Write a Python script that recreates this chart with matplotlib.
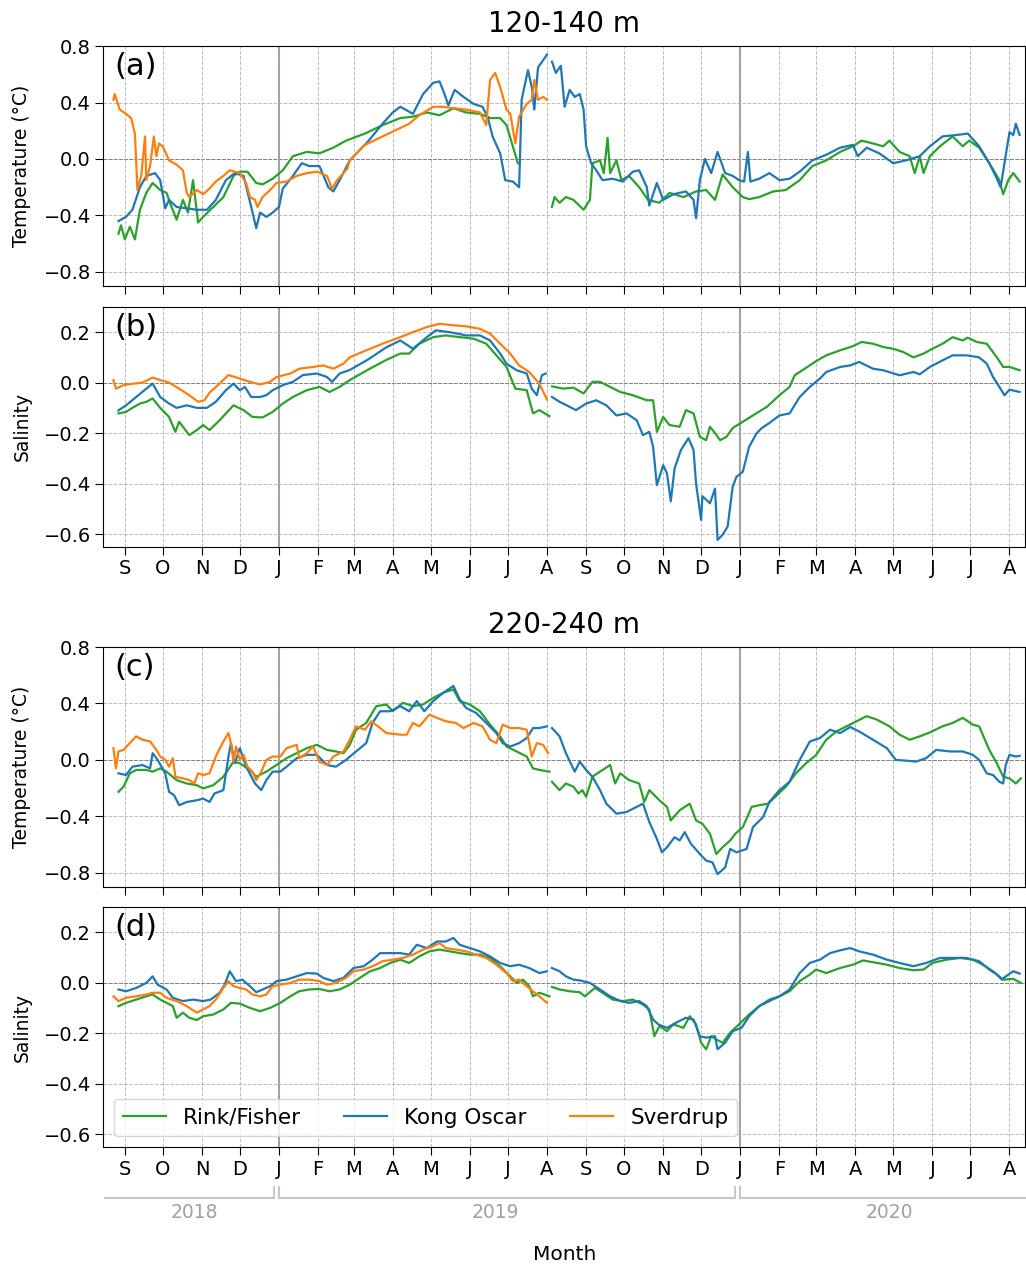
import numpy as np
import matplotlib
matplotlib.use("Agg")
import matplotlib.pyplot as plt
import matplotlib.dates as mdates
import matplotlib.transforms as mtransforms

nan = np.nan

# all series: days since 2019-01-01, anomaly values
# (a) temperature, 120-140 m
ta_rink_d = [-127, -125, -122, -118, -114, -110, -105, -100, -94, -89, -85, -81, -76, -72, -68, -64, -60, -52, -44, -36,
             -31, -25, -18, -13, -5, 3, 11, 22, 32, 43, 53, 68, 82, 96, 106, 117, 127, 138, 148, 159,
             167, 175, 180, 185, 189, 200, 216, 218, 222, 227, 233, 241, 246, 248, 254, 257, 260, 262, 267, 271,
             277, 285, 292, 301, 309, 320, 330, 338, 345, 351, 359, 367, 372, 380, 391, 401, 412, 422, 433, 444,
             454, 461, 470, 478, 483, 491, 499, 503, 507, 510, 515, 523, 533, 541, 546, 554, 562, 570, 573, 577,
             581, 586]
ta_rink_v = [-0.53, -0.47, -0.57, -0.48, -0.57, -0.36, -0.24, -0.17, -0.22, -0.24, -0.34, -0.43, -0.29, -0.38, -0.15, -0.45, -0.41, -0.34, -0.27, -0.12,
             -0.09, -0.09, -0.17, -0.18, -0.14, -0.08, 0.02, 0.05, 0.04, 0.08, 0.13, 0.18, 0.24, 0.29, 0.30, 0.33, 0.31, 0.36, 0.33, 0.32,
             0.29, 0.29, 0.24, 0.09, -0.03, nan, -0.34, -0.27, -0.31, -0.27, -0.29, -0.36, -0.29, -0.03, -0.01, -0.10, 0.15, -0.10, -0.01, -0.15,
             -0.12, -0.20, -0.29, -0.31, -0.24, -0.27, -0.23, -0.22, -0.29, -0.11, -0.20, -0.27, -0.285, -0.27, -0.23, -0.22, -0.15, -0.05, -0.01, 0.05,
             0.09, 0.13, 0.11, 0.09, 0.13, 0.05, 0.02, -0.10, 0.02, -0.10, 0.02, 0.09, 0.16, 0.09, 0.13, 0.08, -0.03, -0.15, -0.25, -0.15,
             -0.10, -0.16]
ta_kong_d = [-127, -121, -116, -110, -105, -98, -94, -90, -87, -81, -73, -65, -57, -50, -42, -35, -28, -22, -18, -15,
             -10, -5, 0, 3, 11, 18, 24, 32, 39, 43, 48, 56, 70, 82, 90, 96, 106, 114, 122, 127,
             131, 134, 139, 146, 154, 161, 165, 169, 175, 179, 185, 190, 192, 197, 200, 202, 205, 209, 212, 214,
             216, 219, 223, 226, 230, 234, 238, 241, 243, 247, 251, 256, 264, 272, 280, 285, 291, 293, 299, 304,
             312, 322, 328, 330, 333, 337, 342, 347, 353, 359, 364, 368, 371, 373, 380, 388, 396, 404, 412, 422,
             433, 444, 454, 458, 465, 475, 486, 496, 507, 515, 525, 536, 545, 554, 562, 567, 571, 574, 578, 581,
             583, 586]
ta_kong_v = [-0.44, -0.41, -0.36, -0.20, -0.12, -0.10, -0.15, -0.35, -0.29, -0.34, -0.35, -0.36, -0.36, -0.29, -0.15, -0.10, -0.12, -0.34, -0.49, -0.38,
             -0.41, -0.38, -0.34, -0.21, -0.12, -0.03, -0.05, -0.05, -0.20, -0.23, -0.15, -0.01, 0.12, 0.25, 0.33, 0.37, 0.32, 0.46, 0.54, 0.55,
             0.46, 0.38, 0.49, 0.44, 0.39, 0.37, 0.30, 0.16, 0.04, -0.15, -0.16, -0.20, 0.42, 0.63, 0.51, 0.35, 0.65, 0.70, 0.74, nan,
             0.69, 0.61, 0.66, 0.37, 0.49, 0.44, 0.46, 0.35, 0.09, -0.03, -0.08, -0.15, -0.14, -0.16, -0.09, -0.08, -0.20, -0.33, -0.17, -0.29,
             -0.25, -0.23, -0.29, -0.42, -0.15, 0.0, -0.10, 0.05, -0.10, -0.12, -0.15, -0.16, 0.05, -0.16, -0.14, -0.10, -0.15, -0.14, -0.09, -0.01,
             0.03, 0.08, 0.10, 0.02, 0.08, 0.04, -0.03, -0.01, 0.02, 0.09, 0.16, 0.17, 0.18, 0.09, -0.03, -0.12, -0.20, -0.03, 0.19, 0.17,
             0.25, 0.17]
ta_sver_d = [-131, -130, -126, -121, -117, -114, -112, -109, -106, -105, -102, -99, -97, -95, -92, -87, -81, -76, -73, -71,
             -65, -60, -55, -50, -44, -39, -31, -26, -23, -19, -17, -13, -7, -2, 6, 14, 22, 30, 38, 42,
             46, 54, 56, 68, 82, 96, 103, 111, 122, 130, 138, 148, 159, 164, 167, 171, 175, 180, 183, 187,
             190, 196, 200, 202, 205, 209, 212]
ta_sver_v = [0.42, 0.46, 0.35, 0.32, 0.29, 0.18, -0.22, -0.12, 0.16, -0.15, -0.05, 0.16, 0.02, 0.11, 0.09, -0.01, -0.04, -0.08, -0.24, -0.27,
             -0.22, -0.25, -0.21, -0.16, -0.12, -0.08, -0.10, -0.17, -0.27, -0.29, -0.34, -0.27, -0.22, -0.17, -0.16, -0.12, -0.10, -0.09, -0.12, -0.21,
             -0.15, -0.07, -0.01, 0.10, 0.16, 0.22, 0.25, 0.31, 0.37, 0.37, 0.36, 0.35, 0.33, 0.24, 0.56, 0.61, 0.51, 0.35, 0.32, 0.11,
             0.30, 0.39, 0.42, 0.56, 0.42, 0.44, 0.42]

# (b) salinity, 120-140 m
sb_rink_d = [-127, -121, -116, -110, -105, -100, -94, -87, -82, -79, -71, -65, -60, -55, -47, -36, -28, -21, -13, -5,
             3, 11, 22, 32, 40, 48, 56, 70, 85, 96, 103, 111, 122, 132, 143, 154, 164, 172, 180, 187,
             196, 201, 206, 214, 215, 216, 225, 233, 241, 248, 254, 262, 270, 280, 291, 296, 299, 304, 309, 317,
             322, 328, 333, 338, 341, 345, 349, 354, 359, 367, 375, 386, 396, 404, 408, 416, 424, 433, 444, 454,
             461, 470, 478, 486, 494, 502, 510, 517, 525, 533, 541, 545, 552, 560, 568, 573, 578, 586]
sb_rink_v = [-0.122, -0.116, -0.10, -0.083, -0.076, -0.063, -0.10, -0.136, -0.195, -0.155, -0.208, -0.188, -0.168, -0.188, -0.149, -0.09, -0.109, -0.136, -0.138, -0.116,
             -0.083, -0.057, -0.03, -0.017, -0.037, -0.017, 0.01, 0.05, 0.09, 0.115, 0.115, 0.154, 0.18, 0.187, 0.18, 0.174, 0.154, 0.108, 0.062, -0.024,
             -0.03, -0.122, -0.109, -0.133, nan, -0.015, -0.024, -0.02, -0.043, 0.003, 0.003, -0.017, -0.037, -0.05, -0.07, -0.07, -0.195, -0.136, -0.168, -0.175,
             -0.109, -0.122, -0.215, -0.228, -0.175, -0.20, -0.228, -0.215, -0.18, -0.155, -0.13, -0.096, -0.05, -0.017, 0.029, 0.055, 0.082, 0.108, 0.128, 0.144,
             0.161, 0.154, 0.141, 0.134, 0.121, 0.10, 0.115, 0.134, 0.154, 0.18, 0.167, 0.178, 0.161, 0.154, 0.10, 0.062, 0.062, 0.049]
sb_kong_d = [-127, -121, -113, -105, -100, -94, -87, -81, -73, -65, -57, -50, -42, -36, -31, -27, -22, -15, -10, -5,
             3, 11, 19, 30, 38, 42, 48, 56, 70, 85, 96, 106, 117, 124, 135, 148, 159, 167, 175, 180,
             188, 196, 200, 204, 208, 211, 213, 216, 222, 230, 235, 243, 251, 259, 267, 275, 283, 288, 293, 296,
             299, 304, 307, 310, 313, 318, 324, 328, 330, 334, 335, 341, 345, 347, 351, 355, 359, 362, 367, 372,
             378, 382, 388, 396, 404, 412, 420, 428, 433, 444, 452, 459, 470, 478, 491, 502, 507, 515, 525, 533,
             544, 554, 560, 565, 570, 574, 578, 586]
sb_kong_v = [-0.11, -0.09, -0.057, -0.024, -0.004, -0.057, -0.083, -0.10, -0.09, -0.10, -0.10, -0.076, -0.03, -0.004, -0.03, -0.017, -0.057, -0.057, -0.05, -0.03,
             -0.01, 0.003, 0.03, 0.036, 0.022, 0.003, 0.036, 0.05, 0.09, 0.14, 0.167, 0.134, 0.18, 0.207, 0.20, 0.187, 0.187, 0.167, 0.115, 0.075,
             0.049, 0.036, -0.024, -0.05, 0.029, 0.036, nan, -0.057, -0.076, -0.096, -0.109, -0.083, -0.07, -0.09, -0.13, -0.122, -0.149, -0.208, -0.195, -0.254,
             -0.406, -0.327, -0.36, -0.47, -0.34, -0.267, -0.22, -0.267, -0.40, -0.544, -0.45, -0.478, -0.42, -0.623, -0.603, -0.57, -0.412, -0.373, -0.353, -0.254,
             -0.20, -0.18, -0.16, -0.13, -0.122, -0.057, -0.017, 0.016, 0.042, 0.062, 0.068, 0.082, 0.055, 0.049, 0.029, 0.042, 0.033, 0.062, 0.088, 0.108,
             0.108, 0.10, 0.075, 0.022, -0.017, -0.05, -0.028, -0.037]
sb_sver_d = [-131, -129, -123, -115, -108, -100, -94, -87, -79, -71, -64, -59, -55, -47, -40, -31, -23, -15, -7, -2,
             9, 16, 27, 35, 43, 51, 56, 70, 85, 96, 106, 117, 127, 138, 148, 159, 167, 175, 183, 190,
             198, 206, 212]
sb_sver_v = [0.01, -0.024, -0.01, -0.004, 0.0, 0.02, 0.01, 0.0, -0.024, -0.05, -0.076, -0.07, -0.04, -0.004, 0.03, 0.016, 0.003, -0.007, 0.003, 0.022,
             0.036, 0.055, 0.062, 0.068, 0.055, 0.075, 0.10, 0.13, 0.16, 0.18, 0.20, 0.22, 0.233, 0.227, 0.223, 0.213, 0.194, 0.154, 0.115, 0.068,
             0.042, -0.004, -0.067]

# (c) temperature, 220-240 m
tc_rink_d = [-127, -123, -118, -113, -105, -100, -94, -89, -81, -73, -65, -60, -52, -44, -36, -31, -23, -18, -10, -2,
             6, 14, 22, 30, 38, 45, 51, 56, 61, 69, 77, 85, 90, 98, 106, 114, 122, 130, 138, 143,
             151, 159, 167, 175, 180, 188, 196, 201, 206, 214, 215, 216, 222, 227, 233, 237, 240, 243, 248, 254,
             262, 266, 270, 277, 285, 289, 293, 301, 307, 310, 317, 325, 330, 335, 341, 346, 351, 357, 361, 367,
             374, 380, 387, 394, 401, 409, 417, 425, 433, 441, 449, 457, 465, 473, 483, 491, 499, 507, 515, 525,
             533, 541, 549, 554, 562, 568, 573, 578, 583, 587]
tc_rink_v = [-0.226, -0.19, -0.095, -0.071, -0.071, -0.083, -0.06, -0.083, -0.143, -0.167, -0.179, -0.202, -0.179, -0.119, -0.012, -0.024, -0.071, -0.119, -0.083, -0.036,
             0.012, 0.048, 0.083, 0.107, 0.071, 0.06, 0.048, 0.107, 0.214, 0.262, 0.381, 0.393, 0.345, 0.405, 0.381, 0.393, 0.44, 0.476, 0.50, 0.417,
             0.393, 0.345, 0.25, 0.167, 0.095, 0.06, 0.024, -0.06, -0.071, -0.083, nan, -0.155, -0.214, -0.167, -0.19, -0.238, -0.214, -0.262, -0.119, -0.083,
             -0.036, -0.167, -0.095, -0.143, -0.167, -0.298, -0.214, -0.286, -0.333, -0.429, -0.357, -0.31, -0.429, -0.452, -0.524, -0.667, -0.619, -0.571, -0.524, -0.476,
             -0.333, -0.321, -0.31, -0.25, -0.19, -0.095, -0.024, 0.036, 0.143, 0.202, 0.238, 0.274, 0.31, 0.286, 0.238, 0.179, 0.143, 0.167, 0.195, 0.238,
             0.262, 0.298, 0.25, 0.238, 0.071, -0.024, -0.119, -0.131, -0.167, -0.131]
tc_kong_d = [-127, -121, -116, -108, -102, -100, -96, -90, -87, -83, -79, -73, -65, -60, -55, -51, -44, -40, -38, -35,
             -31, -26, -19, -14, -10, -5, 1, 6, 14, 22, 30, 38, 45, 53, 61, 69, 74, 80, 88, 96,
             103, 109, 115, 122, 130, 138, 143, 148, 156, 164, 172, 177, 183, 190, 196, 201, 206, 212, 214, 216,
             222, 227, 234, 238, 243, 248, 254, 259, 267, 275, 283, 288, 293, 299, 303, 307, 313, 317, 321, 326,
             333, 338, 343, 347, 353, 357, 362, 370, 375, 383, 388, 396, 404, 412, 420, 428, 436, 444, 452, 459,
             470, 481, 488, 496, 504, 512, 520, 531, 541, 549, 554, 560, 565, 570, 573, 575, 578, 583, 586]
tc_kong_v = [-0.095, -0.107, -0.048, -0.036, -0.06, 0.048, 0.0, -0.095, -0.226, -0.25, -0.321, -0.298, -0.286, -0.274, -0.298, -0.238, -0.214, 0.024, 0.119, -0.024,
             0.083, -0.048, -0.167, -0.214, -0.143, -0.083, -0.083, -0.048, 0.012, 0.036, 0.036, -0.036, -0.048, 0.0, 0.06, 0.119, 0.262, 0.345, 0.345, 0.381,
             0.345, 0.417, 0.345, 0.417, 0.476, 0.524, 0.429, 0.369, 0.333, 0.262, 0.19, 0.119, 0.095, 0.119, 0.155, 0.226, 0.226, 0.238, nan, 0.226,
             0.167, 0.048, -0.083, -0.012, -0.071, -0.119, -0.214, -0.31, -0.381, -0.369, -0.333, -0.31, -0.44, -0.56, -0.655, -0.619, -0.548, -0.571, -0.512, -0.595,
             -0.667, -0.714, -0.726, -0.81, -0.762, -0.631, -0.655, -0.631, -0.476, -0.405, -0.298, -0.214, -0.155, 0.0, 0.131, 0.155, 0.214, 0.19, 0.233, 0.202,
             0.143, 0.083, 0.0, -0.005, -0.012, 0.012, 0.071, 0.06, 0.06, 0.036, 0.0, -0.095, -0.107, -0.155, -0.167, -0.036, 0.036, 0.024, 0.029]
tc_sver_d = [-131, -129, -127, -123, -118, -113, -108, -102, -97, -94, -90, -87, -84, -82, -76, -71, -67, -64, -60, -55,
             -50, -44, -40, -38, -36, -34, -31, -28, -25, -21, -18, -14, -10, -5, 1, 6, 14, 16, 22, 27,
             32, 38, 43, 51, 56, 61, 68, 73, 80, 85, 96, 101, 106, 111, 119, 125, 132, 140, 146, 154,
             161, 167, 172, 177, 183, 190, 196, 200, 204, 209, 213]
tc_sver_v = [0.083, -0.06, 0.06, 0.071, 0.12, 0.167, 0.143, 0.131, 0.071, 0.024, 0.0, -0.048, 0.012, -0.119, -0.131, -0.143, -0.167, -0.095, -0.107, -0.095,
             0.024, 0.131, 0.19, 0.119, -0.012, 0.095, 0.0, 0.036, -0.048, -0.083, -0.143, -0.083, 0.0, 0.024, 0.024, 0.083, 0.107, 0.012, 0.048, 0.095,
             -0.012, -0.036, 0.024, 0.06, 0.143, 0.238, 0.214, 0.274, 0.226, 0.19, 0.179, 0.179, 0.262, 0.238, 0.321, 0.298, 0.274, 0.262, 0.226, 0.262,
             0.238, 0.143, 0.119, 0.25, 0.226, 0.226, 0.214, 0.024, 0.119, 0.107, 0.048]

# (d) salinity, 220-240 m
sd_rink_d = [-127, -121, -113, -105, -100, -94, -89, -84, -81, -76, -71, -65, -60, -52, -44, -38, -31, -23, -15, -7,
             1, 9, 16, 24, 32, 40, 48, 56, 64, 72, 80, 88, 96, 103, 111, 119, 127, 135, 143, 151,
             159, 167, 175, 183, 188, 193, 198, 201, 206, 214, 215, 216, 222, 230, 238, 242, 250, 256, 264, 272,
             280, 288, 293, 297, 301, 307, 312, 320, 325, 330, 334, 338, 342, 346, 351, 357, 364, 372, 380, 388,
             396, 404, 412, 420, 425, 433, 444, 454, 462, 470, 481, 491, 502, 510, 517, 528, 539, 549, 557, 565,
             573, 581, 587]
sd_rink_v = [-0.092, -0.079, -0.066, -0.053, -0.046, -0.066, -0.079, -0.092, -0.138, -0.118, -0.138, -0.147, -0.132, -0.125, -0.105, -0.079, -0.082, -0.099, -0.112, -0.099,
             -0.079, -0.053, -0.033, -0.026, -0.024, -0.033, -0.026, -0.007, 0.02, 0.046, 0.059, 0.079, 0.092, 0.079, 0.105, 0.125, 0.132, 0.125, 0.118, 0.112,
             0.112, 0.099, 0.066, 0.026, 0.0, 0.013, -0.013, -0.053, -0.039, -0.053, nan, -0.016, -0.026, -0.033, -0.037, -0.053, -0.02, -0.039, -0.066, -0.072,
             -0.066, -0.086, -0.105, -0.211, -0.171, -0.191, -0.164, -0.178, -0.132, -0.164, -0.237, -0.263, -0.211, -0.224, -0.237, -0.197, -0.164, -0.125, -0.092, -0.066,
             -0.053, -0.033, 0.007, 0.033, 0.053, 0.039, 0.059, 0.072, 0.089, 0.082, 0.072, 0.059, 0.05, 0.053, 0.079, 0.092, 0.099, 0.092, 0.072, 0.046,
             0.013, 0.016, 0.0]
sd_kong_d = [-127, -121, -113, -105, -100, -96, -89, -84, -76, -68, -60, -54, -47, -43, -39, -34, -29, -23, -18, -13,
             -7, -2, 6, 14, 22, 30, 35, 43, 51, 59, 67, 74, 80, 88, 96, 103, 109, 117, 125, 132,
             138, 143, 151, 159, 167, 175, 183, 190, 198, 206, 212, 214, 216, 222, 227, 233, 238, 246, 254, 262,
             270, 277, 285, 291, 296, 300, 307, 314, 322, 328, 333, 338, 345, 347, 353, 359, 366, 372, 380, 388,
             396, 404, 412, 420, 428, 436, 444, 452, 459, 470, 481, 491, 502, 512, 523, 533, 544, 554, 562, 568,
             572, 575, 581, 586]
sd_kong_v = [-0.026, -0.033, -0.02, 0.0, 0.026, -0.007, -0.026, -0.059, -0.072, -0.066, -0.072, -0.066, -0.039, -0.007, 0.046, 0.007, 0.013, -0.013, -0.037, -0.026,
             -0.013, 0.007, 0.013, 0.026, 0.039, 0.037, 0.02, 0.007, 0.02, 0.059, 0.066, 0.092, 0.118, 0.118, 0.118, 0.112, 0.151, 0.138, 0.164, 0.164,
             0.178, 0.151, 0.138, 0.125, 0.105, 0.079, 0.066, 0.072, 0.059, 0.039, 0.046, nan, 0.059, 0.046, 0.026, 0.013, 0.01, 0.0, -0.026, -0.053,
             -0.072, -0.079, -0.072, -0.092, -0.145, -0.164, -0.178, -0.158, -0.138, -0.145, -0.211, -0.217, -0.211, -0.263, -0.237, -0.191, -0.178, -0.132, -0.092, -0.072,
             -0.053, -0.026, 0.039, 0.079, 0.092, 0.118, 0.129, 0.138, 0.125, 0.112, 0.092, 0.079, 0.066, 0.079, 0.099, 0.099, 0.099, 0.086, 0.053, 0.033,
             0.013, 0.026, 0.046, 0.037]
sd_sver_d = [-131, -127, -121, -113, -105, -100, -94, -89, -81, -73, -65, -60, -55, -50, -44, -40, -36, -31, -26, -21,
             -15, -10, -5, 1, 9, 16, 24, 32, 38, 45, 53, 59, 67, 74, 82, 90, 98, 106, 114, 122,
             127, 132, 140, 148, 156, 164, 172, 180, 185, 190, 196, 201, 206, 212]
sd_sver_v = [-0.053, -0.072, -0.059, -0.053, -0.046, -0.039, -0.039, -0.059, -0.072, -0.092, -0.118, -0.105, -0.092, -0.066, -0.02, 0.007, -0.013, -0.02, -0.026, -0.046,
             -0.053, -0.046, -0.013, -0.007, 0.0, 0.013, 0.013, 0.007, -0.007, 0.0, 0.02, 0.046, 0.053, 0.066, 0.086, 0.092, 0.099, 0.112, 0.132, 0.145,
             0.158, 0.138, 0.132, 0.125, 0.112, 0.099, 0.072, 0.039, 0.007, 0.013, -0.013, -0.033, -0.053, -0.079]

sites = ["Rink/Fisher", "Kong Oscar", "Sverdrup"]
site_colors = ["tab:green", "tab:blue", "tab:orange"]

year_labels = ["2018", "2019", "2020"]
year_starts = ["2018-08-16", "2019-01-01", "2020-01-01"]
year_ends = ["2018-12-28", "2019-12-28", "2020-08-13"]
year_text_at = ["2018-10-26", "2019-06-21", "2020-04-28"]

t0 = np.datetime64("2019-01-01")


def to_dates(days):
    return t0 + np.array(days, dtype=int) * np.timedelta64(1, "D")


panels = [
    ("(a)", "Temperature (°C)", [(ta_rink_d, ta_rink_v), (ta_kong_d, ta_kong_v), (ta_sver_d, ta_sver_v)]),
    ("(b)", "Salinity", [(sb_rink_d, sb_rink_v), (sb_kong_d, sb_kong_v), (sb_sver_d, sb_sver_v)]),
    ("(c)", "Temperature (°C)", [(tc_rink_d, tc_rink_v), (tc_kong_d, tc_kong_v), (tc_sver_d, tc_sver_v)]),
    ("(d)", "Salinity", [(sd_rink_d, sd_rink_v), (sd_kong_d, sd_kong_v), (sd_sver_d, sd_sver_v)]),
]

fig = plt.figure(figsize=(10.26, 12.67), dpi=100)
left, width, height = 0.1007, 0.8980, 0.1893
bottoms = [0.7743, 0.5685, 0.3000, 0.0947]

month_fmt = matplotlib.ticker.FuncFormatter(lambda x, pos: mdates.num2date(x).strftime("%b")[0])
jan_lines = [np.datetime64("2019-01-01"), np.datetime64("2020-01-01")]

axes = []
for i, (tag, ylab, series) in enumerate(panels):
    ax = fig.add_axes([left, bottoms[i], width, height])
    axes.append(ax)
    for (d, v), name, col in zip(series, sites, site_colors):
        ax.plot(to_dates(d), np.array(v, dtype=float), color=col, lw=1.6, label=name)
    ax.axhline(0, color="k", ls="--", lw=0.7, zorder=1)
    for jl in jan_lines:
        ax.axvline(jl, color="gray", lw=1.5, alpha=0.75, zorder=1)
    ax.set_xlim(np.datetime64("2018-08-15"), np.datetime64("2020-08-13"))
    if i % 2 == 0:
        ax.set_ylim(-0.9, 0.8)
        ax.set_yticks([-0.8, -0.4, 0.0, 0.4, 0.8])
    else:
        ax.set_ylim(-0.65, 0.3)
        ax.set_yticks([-0.6, -0.4, -0.2, 0.0, 0.2])
    ax.xaxis.set_major_locator(mdates.MonthLocator())
    ax.xaxis.set_major_formatter(month_fmt)
    if i % 2 == 0:
        ax.tick_params(axis="x", labelbottom=False)
    ax.tick_params(labelsize=14, length=5.5)
    ax.grid(True, ls="--", lw=0.7, color="#aaaaaa", alpha=0.8)
    ax.set_ylabel(ylab, fontsize=13.5)
    ax.yaxis.set_label_coords(-0.078, 0.5)
    ax.text(0.012, 0.975, tag, transform=ax.transAxes, fontsize=22, va="top", ha="left")

axes[0].set_title("120-140 m", fontsize=20, pad=10)
axes[2].set_title("220-240 m", fontsize=20, pad=10)
axes[3].legend(loc="lower left", ncol=3, fontsize=15.5)

# year brackets under the month axis
ax = axes[3]
trans = mtransforms.blended_transform_factory(ax.transData, ax.transAxes)
for k, (lab, s, e, tx) in enumerate(zip(year_labels, year_starts, year_ends, year_text_at)):
    xs = mdates.date2num(np.datetime64(s))
    xe = mdates.date2num(np.datetime64(e))
    ax.plot([xs, xe], [-0.213, -0.213], color="#c8c8c8", lw=1.5, transform=trans, clip_on=False)
    if k > 0:
        ax.plot([xs, xs], [-0.213, -0.167], color="#c8c8c8", lw=1.5, transform=trans, clip_on=False)
    if k < 2:
        ax.plot([xe, xe], [-0.213, -0.167], color="#c8c8c8", lw=1.5, transform=trans, clip_on=False)
    ax.text(mdates.date2num(np.datetime64(tx)), -0.275, lab, transform=trans, ha="center", va="center",
            fontsize=13.5, color="#a0a0a0")

fig.text(0.55, 0.0095, "Month", ha="center", va="center", fontsize=14.5)

fig.savefig("out.png", dpi=100)
